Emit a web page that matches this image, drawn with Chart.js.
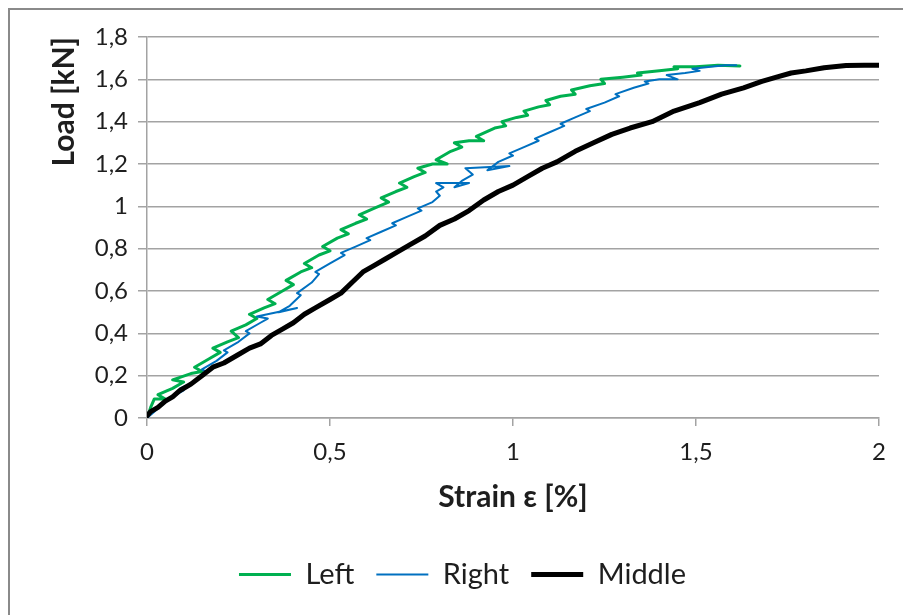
<!DOCTYPE html>
<html>
<head>
<meta charset="utf-8">
<title>Load vs strain</title>
<script src="https://cdn.jsdelivr.net/npm/chart.js@4/dist/chart.umd.min.js"></script>
<style>
  html, body { margin: 0; padding: 0; background: #fff; overflow: hidden; }
  #frame { position: absolute; left: 8px; top: 8px; width: 1000px; height: 700px; border: 2px solid #8a8a8a; }
  #chart { position: absolute; left: 0; top: 0; }
</style>
</head>
<body>
<div id="frame"></div>
<canvas id="chart" width="930" height="615"></canvas>
<script>
// --- data
var xTickLabels = ['0', '0,5', '1', '1,5', '2'];
var yTickLabels = ['0', '0,2', '0,4', '0,6', '0,8', '1', '1,2', '1,4', '1,6', '1,8'];
var seriesNames = ['Left', 'Right', 'Middle'];

var leftStrain = [0.00, 0.01, 0.02, 0.05, 0.03, 0.07, 0.10, 0.07, 0.12, 0.15, 0.13, 0.17, 0.20, 0.18, 0.22, 0.25, 0.23, 0.27, 0.30, 0.28,
    0.32, 0.35, 0.33, 0.37, 0.40, 0.38, 0.42, 0.45, 0.43, 0.47, 0.50, 0.48, 0.52, 0.55, 0.53, 0.57, 0.60, 0.58, 0.62, 0.66,
    0.64, 0.68, 0.71, 0.69, 0.73, 0.76, 0.74, 0.78, 0.82, 0.79, 0.83, 0.86, 0.84, 0.88, 0.92, 0.90, 0.95, 0.98, 0.97, 1.01,
    1.04, 1.03, 1.07, 1.10, 1.09, 1.13, 1.17, 1.16, 1.21, 1.25, 1.24, 1.30, 1.35, 1.34, 1.40, 1.45, 1.44, 1.50, 1.56, 1.62];
var leftLoad = [0.00, 0.05, 0.09, 0.09, 0.11, 0.14, 0.17, 0.18, 0.21, 0.22, 0.24, 0.28, 0.31, 0.33, 0.36, 0.38, 0.41, 0.44, 0.47, 0.49,
    0.52, 0.54, 0.56, 0.60, 0.63, 0.65, 0.69, 0.71, 0.73, 0.77, 0.79, 0.81, 0.85, 0.87, 0.89, 0.92, 0.94, 0.96, 0.99, 1.02,
    1.04, 1.07, 1.09, 1.11, 1.14, 1.16, 1.18, 1.20, 1.20, 1.22, 1.26, 1.28, 1.30, 1.31, 1.31, 1.33, 1.37, 1.38, 1.40, 1.42,
    1.43, 1.45, 1.47, 1.48, 1.50, 1.52, 1.53, 1.55, 1.57, 1.58, 1.60, 1.61, 1.62, 1.63, 1.64, 1.65, 1.66, 1.66, 1.667, 1.663];

var rightStrain = [0.00, 0.02, 0.04, 0.07, 0.10, 0.09, 0.13, 0.16, 0.15, 0.19, 0.22, 0.21, 0.25, 0.28, 0.27, 0.31, 0.33, 0.30, 0.41, 0.36,
    0.39, 0.42, 0.41, 0.45, 0.47, 0.46, 0.50, 0.54, 0.53, 0.57, 0.61, 0.60, 0.64, 0.68, 0.67, 0.71, 0.75, 0.74, 0.78, 0.80,
    0.79, 0.81, 0.79, 0.88, 0.84, 0.86, 0.89, 0.87, 0.99, 0.93, 0.96, 1.00, 0.99, 1.03, 1.07, 1.06, 1.10, 1.14, 1.13, 1.17,
    1.21, 1.20, 1.25, 1.29, 1.28, 1.33, 1.37, 1.36, 1.40, 1.45, 1.42, 1.47, 1.51, 1.49, 1.54, 1.58, 1.61];
var rightLoad = [0.00, 0.03, 0.06, 0.10, 0.13, 0.14, 0.17, 0.22, 0.23, 0.27, 0.31, 0.32, 0.36, 0.40, 0.41, 0.45, 0.47, 0.48, 0.52, 0.50,
    0.53, 0.58, 0.59, 0.64, 0.68, 0.69, 0.73, 0.77, 0.78, 0.81, 0.84, 0.85, 0.88, 0.91, 0.92, 0.95, 0.98, 0.99, 1.02, 1.05,
    1.07, 1.09, 1.11, 1.11, 1.09, 1.12, 1.15, 1.18, 1.19, 1.17, 1.21, 1.24, 1.25, 1.28, 1.31, 1.32, 1.35, 1.38, 1.39, 1.42,
    1.45, 1.46, 1.49, 1.52, 1.53, 1.56, 1.58, 1.59, 1.60, 1.60, 1.62, 1.63, 1.64, 1.65, 1.66, 1.667, 1.667];

var middleStrain = [0.00, 0.01, 0.03, 0.05, 0.07, 0.09, 0.12, 0.15, 0.18, 0.21, 0.25, 0.28, 0.31, 0.34, 0.37, 0.40, 0.43, 0.46, 0.50, 0.53,
    0.56, 0.59, 0.62, 0.65, 0.68, 0.72, 0.76, 0.80, 0.84, 0.88, 0.92, 0.96, 1.00, 1.04, 1.08, 1.12, 1.17, 1.22, 1.27, 1.32,
    1.38, 1.44, 1.51, 1.57, 1.63, 1.68, 1.72, 1.76, 1.80, 1.85, 1.91, 1.96, 2.00];
var middleLoad = [0.01, 0.03, 0.05, 0.08, 0.10, 0.13, 0.16, 0.20, 0.24, 0.26, 0.30, 0.33, 0.35, 0.39, 0.42, 0.45, 0.49, 0.52, 0.56, 0.59,
    0.64, 0.69, 0.72, 0.75, 0.78, 0.82, 0.86, 0.91, 0.94, 0.98, 1.03, 1.07, 1.10, 1.14, 1.18, 1.21, 1.26, 1.30, 1.34, 1.37,
    1.40, 1.45, 1.49, 1.53, 1.56, 1.59, 1.61, 1.63, 1.64, 1.655, 1.665, 1.667, 1.667];

var GRID = '#a3a3a3';
var TEXT = '#1e1e1e';

function points(xs, ys) {
    return xs.map(function (x, i) { return { x: x, y: ys[i] }; });
}

Chart.defaults.font.family = 'Lato';
Chart.defaults.color = TEXT;

var ctx = document.getElementById('chart');
new Chart(ctx, {
    type: 'scatter',
    data: {
        datasets: [{
            label: seriesNames[0],
            data: points(leftStrain, leftLoad),
            borderColor: '#00b050',
            borderWidth: 3,
            order: 2
        }, {
            label: seriesNames[1],
            data: points(rightStrain, rightLoad),
            borderColor: '#0070c0',
            borderWidth: 2,
            order: 1
        }, {
            label: seriesNames[2],
            data: points(middleStrain, middleLoad),
            borderColor: '#000000',
            borderWidth: 5,
            order: 0
        }]
    },
    options: {
        responsive: false,
        animation: false,
        showLine: true,
        elements: {
            point: { radius: 0, hoverRadius: 0 },
            line: { tension: 0, fill: false, borderJoinStyle: 'round', borderCapStyle: 'round' }
        },
        layout: { padding: { left: 46, right: 51, top: 37, bottom: 16 } },
        scales: {
            x: {
                type: 'linear',
                min: 0,
                max: 2,
                afterFit: function (scale) { scale.height = 120; },
                ticks: {
                    stepSize: 0.5,
                    padding: 12,
                    font: { size: 24 },
                    callback: function (value, index) { return xTickLabels[index]; }
                },
                grid: { drawOnChartArea: false, drawTicks: true, tickLength: 8, color: GRID, lineWidth: 1.5 },
                border: { display: true, color: GRID, width: 1.5 },
                title: {
                    display: true,
                    text: 'Strain ε [%]',
                    font: { size: 30, weight: 'bold' },
                    padding: { top: 0, bottom: 23 }
                }
            },
            y: {
                type: 'linear',
                min: 0,
                max: 1.8,
                afterFit: function (scale) { scale.width = 101; },
                ticks: {
                    stepSize: 0.2,
                    padding: 10,
                    font: { size: 24 },
                    callback: function (value, index) { return yTickLabels[index]; }
                },
                grid: { drawTicks: true, tickLength: 9, color: GRID, lineWidth: 1.5 },
                border: { display: true, color: GRID, width: 1.5 },
                title: {
                    display: true,
                    text: 'Load [kN]',
                    align: 'end',
                    font: { size: 30, weight: 'bold' },
                    padding: { top: 0, bottom: 0 }
                }
            }
        },
        plugins: {
            tooltip: { enabled: false },
            legend: {
                position: 'bottom',
                labels: {
                    usePointStyle: true,
                    pointStyle: 'line',
                    pointStyleWidth: 52,
                    padding: 22,
                    font: { size: 29 },
                    color: TEXT,
                    sort: function (a, b) { return a.datasetIndex - b.datasetIndex; }
                }
            }
        }
    }
});
</script>
</body>
</html>
